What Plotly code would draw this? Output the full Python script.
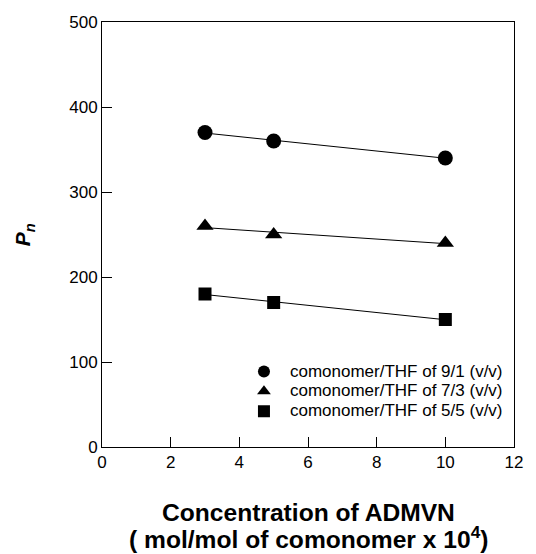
import numpy as np
import plotly.graph_objects as go

conc = [3, 5, 10]
pn_91 = [370, 360, 340]
pn_73 = [260, 250, 240]
pn_55 = [180, 170, 150]
names = ["comonomer/THF of 9/1 (v/v)", "comonomer/THF of 7/3 (v/v)", "comonomer/THF of 5/5 (v/v)"]
symbols = ["circle", "triangle-up", "square"]
sizes = [15, 15, 13]
x_ticks = [0, 2, 4, 6, 8, 10, 12]
y_ticks = [0, 100, 200, 300, 400, 500]
x_title_1 = "<b>Concentration of ADMVN</b>"
x_title_2 = "<b>( mol/mol of comonomer x 10<sup>4</sup>)</b>"
y_title = "<b><i>P<sub>n</sub></i></b>"

FONT = "Liberation Sans, Arial"

fig = go.Figure()
for ys in [pn_91, pn_73, pn_55]:
    k, b = np.polyfit(conc, ys, 1)
    xs = [min(conc), max(conc)]
    fig.add_trace(go.Scatter(x=xs, y=[k * v + b for v in xs], mode="lines",
                             line=dict(color="black", width=1), showlegend=False, hoverinfo="skip"))
for ys, nm, sym, sz in zip([pn_91, pn_73, pn_55], names, symbols, sizes):
    fig.add_trace(go.Scatter(x=conc, y=ys, mode="markers",
                             name='<span style="font-size:17px">' + nm + '</span>',
                             marker=dict(symbol=sym, size=sz, color="black")))

axis_common = dict(showline=True, linecolor="black", linewidth=1, mirror=True, automargin=False,
                   ticks="inside", ticklen=10, tickcolor="black", showgrid=False, zeroline=False,
                   tickfont=dict(family=FONT, size=17, color="black"))
fig.update_xaxes(range=[0, 12], tickvals=x_ticks, **axis_common)
fig.update_yaxes(range=[0, 500], tickvals=y_ticks, **axis_common)

fig.add_annotation(text=x_title_1, xref="paper", yref="paper", x=0.5, y=-0.153, yanchor="middle",
                   showarrow=False, font=dict(family=FONT, size=24.6, color="black"))
fig.add_annotation(text=x_title_2, xref="paper", yref="paper", x=0.5, y=-0.213, yanchor="middle",
                   showarrow=False, font=dict(family=FONT, size=24.6, color="black"))
fig.add_annotation(text=y_title, xref="paper", yref="paper", x=-0.19, y=0.5, xanchor="center",
                   yanchor="middle", textangle=-90, showarrow=False,
                   font=dict(family=FONT, size=21, color="black"))

# page body has an 8px margin, so the figure is drawn 8px smaller and offset
fig.update_layout(
    width=528, height=546, plot_bgcolor="white", paper_bgcolor="white",
    margin=dict(l=94, r=22, t=14, b=107),
    legend=dict(x=0.33, y=0.213, xanchor="left", yanchor="top", bgcolor="rgba(0,0,0,0)",
                font=dict(family=FONT, size=13, color="black"),
                itemsizing="constant", itemwidth=42),
)
fig.write_html("out.html")
